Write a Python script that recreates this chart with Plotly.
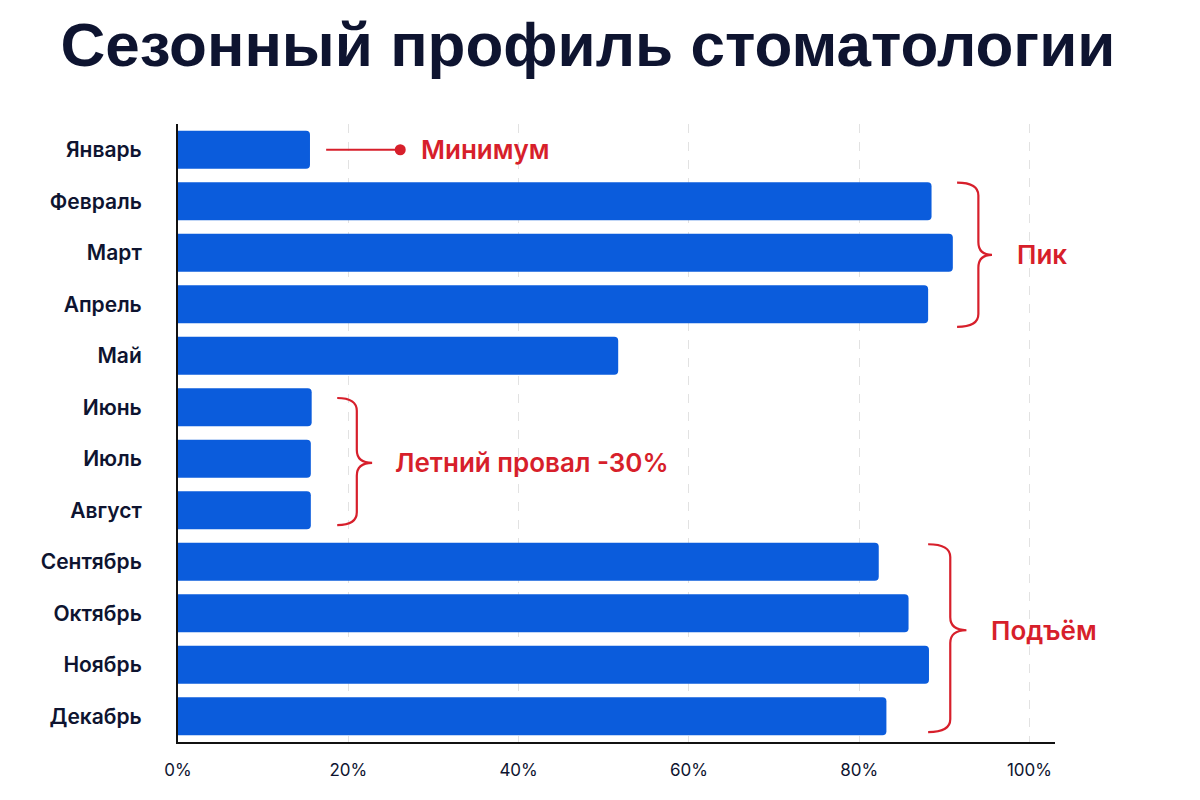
import plotly.graph_objects as go

months = ["Январь", "Февраль", "Март", "Апрель", "Май", "Июнь", "Июль",
          "Август", "Сентябрь", "Октябрь", "Ноябрь", "Декабрь"]
values = [15.5, 88.5, 91.0, 88.1, 51.7, 15.7, 15.6, 15.6, 82.3, 85.8, 88.2, 83.2]
x_ticks = [0, 20, 40, 60, 80, 100]
x_ticktext = ["0%", "20%", "40%", "60%", "80%", "100%"]

RED = "#d71f2b"
BLUE = "#0b5cdc"
NAVY = "#0e1430"

ypos = list(range(len(months)))

fig = go.Figure()
fig.add_trace(go.Bar(
    x=values, y=ypos, orientation="h",
    marker=dict(color=BLUE, cornerradius=4, line=dict(width=0)),
    hoverinfo="skip", showlegend=False,
))


def brace(x0, xv, xp, ytop, ymid, ybot, ry=0.25):
    return (f"M {x0},{ytop} Q {xv},{ytop} {xv},{ytop+ry} "
            f"L {xv},{ymid-ry} Q {xv},{ymid} {xp},{ymid} "
            f"Q {xv},{ymid} {xv},{ymid+ry} "
            f"L {xv},{ybot-ry} Q {xv},{ybot} {x0},{ybot}")


shapes = [
    dict(type="path", xref="x", yref="y",
         path=brace(91.5, 94.0, 95.6, 0.64, 2.04, 3.44),
         line=dict(color=RED, width=2.2)),
    dict(type="path", xref="x", yref="y",
         path=brace(18.7, 21.0, 22.8, 4.82, 6.08, 7.29),
         line=dict(color=RED, width=2.2)),
    dict(type="path", xref="x", yref="y",
         path=brace(88.1, 90.7, 92.6, 7.66, 9.33, 11.31),
         line=dict(color=RED, width=2.2)),
    dict(type="line", xref="x", yref="y", x0=17.4, x1=26.1, y0=0, y1=0,
         line=dict(color=RED, width=2.2)),
]

fig.add_trace(go.Scatter(
    x=[26.1], y=[0], mode="markers",
    marker=dict(color=RED, size=11), hoverinfo="skip", showlegend=False,
))

afont = dict(family="Inter, Roboto, sans-serif", size=26, color=RED, weight=600)
annotations = [
    dict(x=28.3, y=0, text="Минимум", xanchor="left", yanchor="middle",
         showarrow=False, font=afont),
    dict(x=98.3, y=2.04, text="Пик", xanchor="left", yanchor="middle",
         showarrow=False, font=afont),
    dict(x=25.2, y=6.08, text="Летний провал -30%", xanchor="left", yanchor="middle",
         showarrow=False, font=afont),
    dict(x=95.2, y=9.33, text="Подъём", xanchor="left", yanchor="middle",
         showarrow=False, font=afont),
]

fig.update_layout(
    width=1200, height=800,
    margin=dict(l=178, r=145, t=124, b=58),
    paper_bgcolor="white", plot_bgcolor="white",
    bargap=0.26,
    title=dict(text="Сезонный профиль стоматологии",
               x=0.49, xanchor="center", y=0.945, yanchor="middle",
               font=dict(family="Liberation Sans, Arial, sans-serif", size=62,
                         color=NAVY, weight="bold")),
    xaxis=dict(range=[0, 103], tickvals=x_ticks, ticktext=x_ticktext,
               showgrid=True, gridcolor="#e2e2e2", griddash="dash", gridwidth=1,
               zeroline=False, showline=True, linecolor="#111111", linewidth=2,
               ticks="", ticklabelstandoff=12,
               tickfont=dict(family="Inter, sans-serif", size=17, color=NAVY),
               fixedrange=True),
    yaxis=dict(range=[11.5, -0.5], tickvals=ypos, ticktext=months,
               showgrid=False, zeroline=False, showline=True,
               linecolor="#111111", linewidth=2, ticks="",
               ticklabelstandoff=30,
               tickfont=dict(family="Inter, sans-serif", size=21, color=NAVY, weight=600),
               fixedrange=True),
    shapes=shapes,
    annotations=annotations,
)

fig.write_html("out.html")
